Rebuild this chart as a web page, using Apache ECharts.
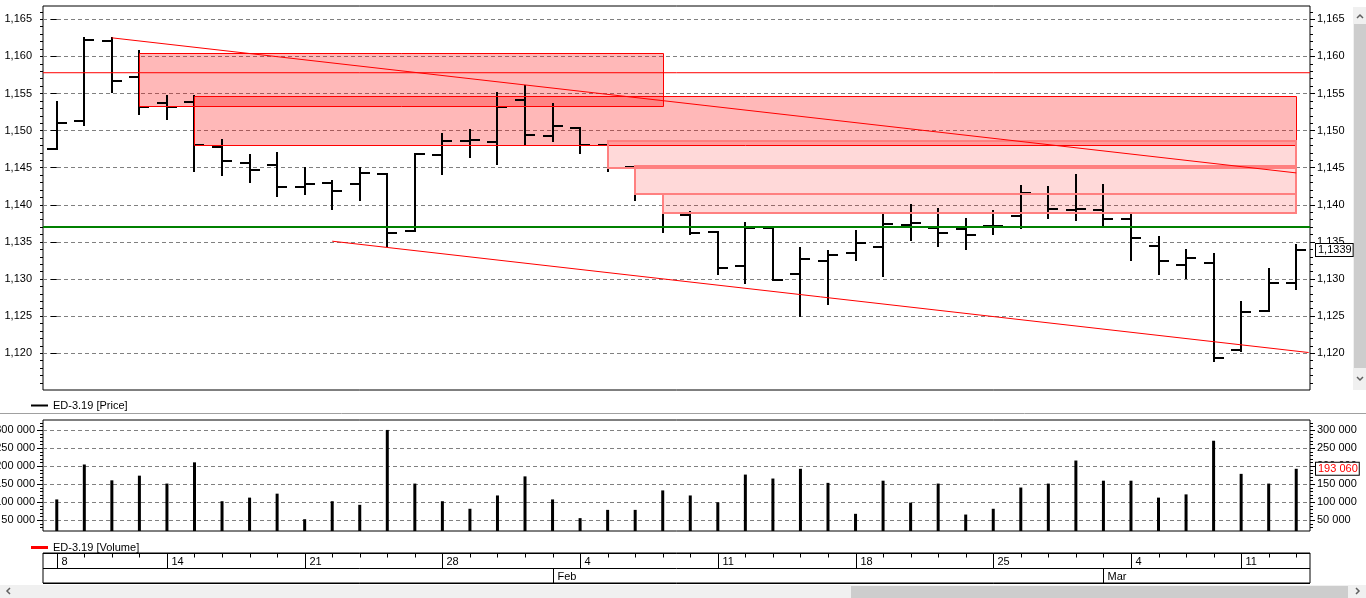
<!DOCTYPE html>
<html>
<head>
<meta charset="utf-8">
<title>ED-3.19</title>
<script src="https://cdn.jsdelivr.net/npm/echarts@6/dist/echarts.min.js"></script>
<style>
    html, body { margin: 0; padding: 0; background: #fff; }
    #chart { width: 1366px; height: 598px; }
</style>
</head>
<body>
<div id="chart"></div>
<script>
// trading days, 2019
var dates = [
    '2019-01-08', '2019-01-09', '2019-01-10', '2019-01-11', '2019-01-14', '2019-01-15', '2019-01-16',
    '2019-01-17', '2019-01-18', '2019-01-21', '2019-01-22', '2019-01-23', '2019-01-24', '2019-01-25',
    '2019-01-28', '2019-01-29', '2019-01-30', '2019-01-31', '2019-02-01', '2019-02-04', '2019-02-05',
    '2019-02-06', '2019-02-07', '2019-02-08', '2019-02-11', '2019-02-12', '2019-02-13', '2019-02-14',
    '2019-02-15', '2019-02-18', '2019-02-19', '2019-02-20', '2019-02-21', '2019-02-22', '2019-02-25',
    '2019-02-26', '2019-02-27', '2019-02-28', '2019-03-01', '2019-03-04', '2019-03-05', '2019-03-06',
    '2019-03-07', '2019-03-11', '2019-03-12', '2019-03-13'
];
var opens = [
    1.1475, 1.1513, 1.1621, 1.1572, 1.1537, 1.1539, 1.1478, 1.1456, 1.1453, 1.1424,
    1.1429, 1.1428, 1.1441, 1.1365, 1.1467, 1.1486, 1.1485, 1.1541, 1.1493, 1.1503,
    1.1481, 1.1451, 1.1414, 1.1386, 1.1364, 1.1318, 1.1369, 1.1307, 1.1324, 1.1335,
    1.1343, 1.1373, 1.1369, 1.1367, 1.1371, 1.1385, 1.1414, 1.1393, 1.1393, 1.1381,
    1.1345, 1.1319, 1.1322, 1.1204, 1.1257, 1.1295
];
var highs = [
    1.1539, 1.1625, 1.1625, 1.1607, 1.1547, 1.1547, 1.1488, 1.1467, 1.1470, 1.1449,
    1.1432, 1.1450, 1.1441, 1.1469, 1.1496, 1.1501, 1.1551, 1.1560, 1.1536, 1.1503,
    1.1481, 1.1451, 1.1414, 1.1391, 1.1364, 1.1376, 1.1369, 1.1342, 1.1338, 1.1365,
    1.1387, 1.1400, 1.1394, 1.1381, 1.1392, 1.1426, 1.1424, 1.1440, 1.1427, 1.1387,
    1.1357, 1.1339, 1.1334, 1.1269, 1.1314, 1.1346
];
var lows = [
    1.1475, 1.1508, 1.1552, 1.1522, 1.1516, 1.1445, 1.1440, 1.1431, 1.1412, 1.1415,
    1.1394, 1.1406, 1.1345, 1.1365, 1.1442, 1.1464, 1.1455, 1.1481, 1.1486, 1.1470,
    1.1445, 1.1406, 1.1363, 1.1361, 1.1307, 1.1295, 1.1299, 1.1250, 1.1266, 1.1325,
    1.1304, 1.1352, 1.1344, 1.1341, 1.1361, 1.1369, 1.1382, 1.1379, 1.1372, 1.1326,
    1.1307, 1.1301, 1.1190, 1.1203, 1.1257, 1.1286
];
var closes = [
    1.1510, 1.1622, 1.1567, 1.1532, 1.1532, 1.1480, 1.1459, 1.1447, 1.1424, 1.1428,
    1.1418, 1.1443, 1.1362, 1.1469, 1.1486, 1.1487, 1.1532, 1.1494, 1.1506, 1.1480,
    1.1449, 1.1414, 1.1389, 1.1362, 1.1315, 1.1369, 1.1299, 1.1327, 1.1333, 1.1349,
    1.1374, 1.1375, 1.1362, 1.1360, 1.1372, 1.1416, 1.1394, 1.1395, 1.1381, 1.1355,
    1.1324, 1.1328, 1.1194, 1.1256, 1.1295, 1.1339
];
var volumes = [
    108000, 205000, 161000, 174000, 152000, 211000, 103000, 113000, 124000, 53000,
    103000, 93000, 301000, 152000, 103000, 82000, 119000, 172000, 108000, 56000,
    79000, 79000, 133000, 119000, 100000, 177000, 166000, 193000, 154000, 68000,
    160000, 99000, 152000, 66000, 82000, 141000, 152000, 216000, 160000, 160000,
    113000, 122000, 271000, 179000, 152000, 193060
];

var priceTicks = [1.120, 1.125, 1.130, 1.135, 1.140, 1.145, 1.150, 1.155, 1.160, 1.165];
var volumeTicks = [50000, 100000, 150000, 200000, 250000, 300000];
var monthNames = ['Jan', 'Feb', 'Mar', 'Apr', 'May', 'Jun', 'Jul', 'Aug', 'Sep', 'Oct', 'Nov', 'Dec'];

// drawn zones: [from bar, to bar, top price, bottom price]
var zonesStrong = [[3, 22, 1.1605, 1.1533], [5, 45, 1.1547, 1.1481]];
var zonesLight = [[20, 45, 1.1486, 1.1449], [21, 45, 1.1452, 1.1414], [22, 45, 1.1414, 1.1389]];
var trendTop = [[2, 1.1625], [45, 1.1443]];
var trendBottom = [[10, 1.1351], [45.45, 1.1201]];
var levelRed = 1.1578;
var levelGreen = 1.1370;

var priceMin = 1.11505, priceMax = 1.16679;
var volMin = 20278, volMax = 328611;

var priceMinor = [];
for (var k = 1116; k <= 1166; k++) priceMinor.push(k / 1000);
var volumeMinor = [];
for (var k = 3; k <= 32; k++) volumeMinor.push(k * 10000);

var font = 'Liberation Sans';
var lastIdx = closes.length - 1;

function priceLabel(v) { return v.toFixed(3).replace('.', ','); }
function volumeLabel(v) { return String(Math.round(v)).replace(/\B(?=(\d{3})+(?!\d))/g, ' '); }

function makeAxis(grid, pos, min, max, ticks, len, labels, fmt, margin, gridLines) {
    return {
        type: 'value', gridIndex: grid, position: pos, min: min, max: max,
        axisLine: { show: false },
        axisTick: { show: true, inside: false, length: len, customValues: ticks, lineStyle: { color: '#000', width: 1 } },
        axisLabel: labels ? {
            show: true, customValues: labels, formatter: fmt, margin: margin,
            color: '#000', fontSize: 11, fontFamily: font
        } : { show: false },
        splitLine: gridLines ? { show: true, lineStyle: { color: '#808080', type: [4, 3], width: 1 } } : { show: false }
    };
}

// box label on the right axis showing the last value
function lastValueMark(value, text, color) {
    return {
        silent: true, symbol: 'none', precision: 6,
        lineStyle: { color: 'transparent' },
        label: {
            show: true, position: 'end', distance: 6,
            formatter: function () { return text; },
            color: color, fontSize: 11, fontFamily: font,
            backgroundColor: '#fff', borderColor: '#000', borderWidth: 1, padding: [1, 1, 0, 2]
        },
        data: [{ yAxis: value }]
    };
}

// OHLC bar: high-low line, open tick left, close tick right
function renderBar(params, api) {
    var i = api.value(0);
    var x = Math.round(api.coord([i, priceMin])[0]);
    var yo = Math.round(api.coord([i, api.value(1)])[1]);
    var yh = Math.round(api.coord([i, api.value(2)])[1]);
    var yl = Math.round(api.coord([i, api.value(3)])[1]);
    var yc = Math.round(api.coord([i, api.value(4)])[1]);
    var st = { stroke: '#000', lineWidth: 2 };
    return {
        type: 'group', children: [
            { type: 'line', shape: { x1: x, y1: yh - 1, x2: x, y2: yl + 1 }, style: st },
            { type: 'line', shape: { x1: x - 10, y1: yo, x2: x, y2: yo }, style: st },
            { type: 'line', shape: { x1: x, y1: yc, x2: x + 10, y2: yc }, style: st }
        ]
    };
}

function zoneRender(fill, stroke, width) {
    return function (params, api) {
        var a = api.coord([api.value(0), api.value(2)]);
        var b = api.coord([api.value(1), api.value(3)]);
        var off = width % 2 ? 0.5 : 0;
        var x0 = Math.round(a[0]) + off, y0 = Math.round(a[1]) + off;
        var x1 = Math.round(b[0]) + off, y1 = Math.round(b[1]) + off;
        return {
            type: 'rect', shape: { x: x0, y: y0, width: x1 - x0, height: y1 - y0 },
            style: { fill: fill, stroke: stroke, lineWidth: width }
        };
    };
}

// date ruler: day ticks, week starts and month starts
function renderDay(params, api) {
    var i = params.dataIndex;
    var x = Math.round(api.coord([i, 0])[0]) + 0.5;
    var yTop = Math.round(api.coord([i, 2])[1]) + 0.5;
    var yMid = Math.round(api.coord([i, 1])[1]) + 0.5;
    var yBot = Math.round(api.coord([i, 0])[1]) + 0.5;
    var ln = { stroke: '#000', lineWidth: 1 };
    var kids = [{ type: 'line', shape: { x1: x, y1: yTop, x2: x, y2: yTop + 4 }, style: ln }];
    var d = new Date(dates[i] + 'T00:00:00Z');
    var p = i > 0 ? new Date(dates[i - 1] + 'T00:00:00Z') : null;
    if (!p || d.getUTCDay() < p.getUTCDay()) {
        kids.push({ type: 'line', shape: { x1: x, y1: yTop, x2: x, y2: yMid }, style: ln });
        kids.push({ type: 'text', style: { text: String(d.getUTCDate()), x: x + 4, y: (yTop + yMid) / 2 + 1,
            fill: '#000', fontSize: 11, fontFamily: font, verticalAlign: 'middle', align: 'left' } });
    }
    if (p && d.getUTCMonth() !== p.getUTCMonth()) {
        kids.push({ type: 'line', shape: { x1: x, y1: yMid, x2: x, y2: yBot }, style: ln });
        kids.push({ type: 'text', style: { text: monthNames[d.getUTCMonth()], x: x + 4, y: (yMid + yBot) / 2 + 1,
            fill: '#000', fontSize: 11, fontFamily: font, verticalAlign: 'middle', align: 'left' } });
    }
    return { type: 'group', children: kids };
}

var bars = dates.map(function (d, i) { return [i, opens[i], highs[i], lows[i], closes[i]]; });
var gridBase = { show: true, borderColor: '#000', borderWidth: 1, backgroundColor: '#fff', containLabel: false, outerBoundsMode: 'none' };

var chart = echarts.init(document.getElementById('chart'), null, { renderer: 'canvas' });

var option = {
    animation: false,
    backgroundColor: '#fff',
    textStyle: { fontFamily: font },
    grid: [
        Object.assign({ left: 43, top: 6, width: 1267, height: 384 }, gridBase),
        Object.assign({ left: 43, top: 420, width: 1267, height: 111 }, gridBase),
        Object.assign({ left: 43, top: 553, width: 1267, height: 30 }, gridBase)
    ],
    legend: [
        {
            left: 26, top: 395, selectedMode: false, icon: 'rect', itemWidth: 17, itemHeight: 2,
            textStyle: { color: '#000', fontSize: 11, fontFamily: font },
            data: ['ED-3.19 [Price]']
        },
        {
            left: 26, top: 537, selectedMode: false, icon: 'rect', itemWidth: 17, itemHeight: 3,
            textStyle: { color: '#000', fontSize: 11, fontFamily: font },
            data: [{ name: 'ED-3.19 [Volume]', itemStyle: { color: '#f00' } }]
        }
    ],
    xAxis: [
        { type: 'category', gridIndex: 0, data: dates, show: false },
        { type: 'value', gridIndex: 0, min: -0.5, max: 45.5, show: false },
        { type: 'category', gridIndex: 1, data: dates, show: false },
        { type: 'category', gridIndex: 2, data: dates, show: false }
    ],
    yAxis: [
        makeAxis(0, 'left', priceMin, priceMax, priceTicks, 6, priceTicks, priceLabel, 11, true),
        makeAxis(0, 'left', priceMin, priceMax, priceMinor, 3, null),
        makeAxis(0, 'right', priceMin, priceMax, priceTicks, 5, priceTicks, priceLabel, 7, false),
        makeAxis(0, 'right', priceMin, priceMax, priceMinor, 3, null),
        makeAxis(1, 'left', volMin, volMax, volumeTicks, 6, volumeTicks, volumeLabel, 8, true),
        makeAxis(1, 'left', volMin, volMax, volumeMinor, 3, null),
        makeAxis(1, 'right', volMin, volMax, volumeTicks, 5, volumeTicks, volumeLabel, 7, false),
        makeAxis(1, 'right', volMin, volMax, volumeMinor, 3, null),
        {
            type: 'value', gridIndex: 2, min: 0, max: 2, interval: 1,
            axisLine: { show: false }, axisTick: { show: false }, axisLabel: { show: false },
            splitLine: { show: true, lineStyle: { color: '#000', width: 1, type: 'solid' } }
        }
    ],
    series: [
        {
            name: 'zonesStrongFill', type: 'custom', xAxisIndex: 1, yAxisIndex: 0, z: 1, silent: true,
            renderItem: zoneRender('rgba(255,0,0,0.28)', null, 0),
            encode: { x: [0, 1], y: [2, 3] }, data: zonesStrong
        },
        {
            name: 'zonesLightFill', type: 'custom', xAxisIndex: 1, yAxisIndex: 0, z: 1, silent: true,
            renderItem: zoneRender('rgba(255,0,0,0.15)', null, 0),
            encode: { x: [0, 1], y: [2, 3] }, data: zonesLight
        },
        {
            name: 'ED-3.19 [Price]', type: 'custom', xAxisIndex: 0, yAxisIndex: 0, z: 3,
            itemStyle: { color: '#000' },
            renderItem: renderBar,
            encode: { x: 0, y: [1, 2, 3, 4] },
            data: bars
        },
        {
            name: 'zonesStrongEdge', type: 'custom', xAxisIndex: 1, yAxisIndex: 0, z: 4, silent: true,
            renderItem: zoneRender(null, '#ff0000', 1),
            encode: { x: [0, 1], y: [2, 3] }, data: zonesStrong
        },
        {
            name: 'zonesLightEdge', type: 'custom', xAxisIndex: 1, yAxisIndex: 0, z: 4, silent: true,
            renderItem: zoneRender(null, '#ff8080', 2),
            encode: { x: [0, 1], y: [2, 3] }, data: zonesLight
        },
        {
            name: 'trendTop', type: 'line', xAxisIndex: 1, yAxisIndex: 0, z: 5, symbol: 'none', silent: true,
            lineStyle: { color: '#ff0000', width: 1 }, data: trendTop
        },
        {
            name: 'trendBottom', type: 'line', xAxisIndex: 1, yAxisIndex: 0, z: 5, symbol: 'none', silent: true,
            lineStyle: { color: '#ff0000', width: 1 }, data: trendBottom
        },
        {
            name: 'levelRed', type: 'line', xAxisIndex: 1, yAxisIndex: 0, z: 5, symbol: 'none', silent: true,
            lineStyle: { color: '#ff0000', width: 1 }, data: [[-0.5, levelRed], [45.5, levelRed]]
        },
        {
            name: 'levelGreen', type: 'line', xAxisIndex: 1, yAxisIndex: 0, z: 6, symbol: 'none', silent: true,
            lineStyle: { color: '#008000', width: 2 }, data: [[-0.5, levelGreen], [45.5, levelGreen]],
            markLine: lastValueMark(closes[lastIdx], closes[lastIdx].toFixed(4).replace('.', ','), '#000')
        },
        {
            name: 'ED-3.19 [Volume]', type: 'bar', xAxisIndex: 2, yAxisIndex: 4, barWidth: 3,
            itemStyle: { color: '#000' },
            data: volumes,
            markLine: lastValueMark(volumes[lastIdx], volumeLabel(volumes[lastIdx]), '#ff0000')
        },
        {
            name: 'dateRuler', type: 'custom', xAxisIndex: 3, yAxisIndex: 8, silent: true,
            renderItem: renderDay,
            encode: { x: 0, y: 1 },
            data: dates.map(function (d, i) { return [i, 1]; })
        }
    ],
    graphic: [
        // panel separator
        { type: 'line', shape: { x1: 0, y1: 413.5, x2: 1366, y2: 413.5 }, style: { stroke: '#a0a0a0', lineWidth: 1 } },
        // vertical scrollbar
        { type: 'rect', shape: { x: 1353, y: 7, width: 13, height: 383 }, style: { fill: '#f0f0f0' } },
        { type: 'rect', shape: { x: 1354, y: 24, width: 12, height: 344 }, style: { fill: '#cdcdcd' } },
        { type: 'polyline', shape: { points: [[1357, 18], [1360, 15], [1363, 18]] }, style: { stroke: '#606060', lineWidth: 1.5, fill: null } },
        { type: 'polyline', shape: { points: [[1357, 377], [1360, 380], [1363, 377]] }, style: { stroke: '#606060', lineWidth: 1.5, fill: null } },
        // horizontal scrollbar
        { type: 'rect', shape: { x: 0, y: 585, width: 1366, height: 13 }, style: { fill: '#f0f0f0' } },
        { type: 'rect', shape: { x: 851, y: 586, width: 497, height: 12 }, style: { fill: '#cdcdcd' } },
        { type: 'polyline', shape: { points: [[10, 588], [7, 591], [10, 594]] }, style: { stroke: '#606060', lineWidth: 1.5, fill: null } },
        { type: 'polyline', shape: { points: [[1356, 588], [1359, 591], [1356, 594]] }, style: { stroke: '#606060', lineWidth: 1.5, fill: null } }
    ]
};

chart.setOption(option);
</script>
</body>
</html>
